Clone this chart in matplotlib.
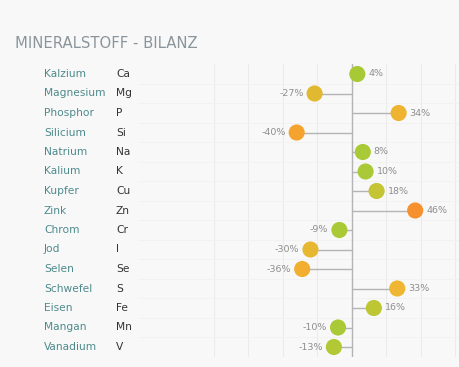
import matplotlib.pyplot as plt
import numpy as np
from matplotlib.colors import LinearSegmentedColormap, Normalize

# data
names = ['Kalzium', 'Magnesium', 'Phosphor', 'Silicium', 'Natrium', 'Kalium', 'Kupfer',
         'Zink', 'Chrom', 'Jod', 'Selen', 'Schwefel', 'Eisen', 'Mangan', 'Vanadium']
symbols = ['Ca', 'Mg', 'P', 'Si', 'Na', 'K', 'Cu', 'Zn', 'Cr', 'I', 'Se', 'S', 'Fe', 'Mn', 'V']
balance = [4, -27, 34, -40, 8, 10, 18, 46, -9, -30, -36, 33, 16, -10, -13]
grid_ticks = [-100, -75, -50, -25, 0, 25, 50, 75, 100]

W, H = 460, 367
bg = '#f8f8f8'

fig = plt.figure(figsize=(W / 100, H / 100), dpi=100, facecolor=bg)

# plot area in pixels (right side runs off the figure)
x0, x1 = 214, 489.6
row_top, row_step = 74, 19.5
n = len(names)
y_top = row_top - row_step / 2
y_bot = row_top + row_step * (n - 0.5)

ax = fig.add_axes([x0 / W, 1 - y_bot / H, (x1 - x0) / W, (y_bot - y_top) / H])
ax.set_facecolor('none')
ax.set_xlim(-100, 100)
ax.set_ylim(n - 0.5, -0.5)
for s in ax.spines.values():
    s.set_visible(False)
ax.set_xticks([])
ax.set_yticks([])

# faint grid
for g in grid_ticks:
    if g != 0:
        ax.axvline(g, color='#ebebeb', lw=0.8, zorder=0)
row_lines = np.arange(n + 1) - 0.5
for yl in row_lines[1:-1]:
    ax.plot([-155, 100], [yl, yl], color='#f2f2f2', lw=0.7, zorder=0, clip_on=False)

# zero axis
ax.axvline(0, color='#b4b4b4', lw=1.0, zorder=1)

# green -> yellow -> orange by size of deviation
cmap = LinearSegmentedColormap.from_list('bal', [
    (0.0, '#a5c936'), (0.24, '#abc936'), (0.38, '#c3c534'), (0.58, '#e0b930'),
    (0.72, '#eeb633'), (0.86, '#f5a52f'), (1.0, '#f7902f')])
norm = Normalize(0, 46)

ypos = np.arange(n)
vals = np.array(balance)
ax.hlines(ypos, 0, vals, color='#b4b4b4', lw=1.0, zorder=2)
ax.scatter(vals, ypos, s=135, c=cmap(norm(np.abs(vals))), edgecolors='none', zorder=3)

for y, v in zip(ypos, vals):
    off = 11 if v >= 0 else -11
    ax.annotate(f'{v}%', (v, y), xytext=(off * 0.72, 0), textcoords='offset points',
                ha='left' if v >= 0 else 'right', va='center',
                fontsize=6.8, color='#8e8e8e')

# left labels
for y, nm, sym in zip(ypos, names, symbols):
    yf = 1 - (row_top + row_step * y) / H
    fig.text(44 / W, yf, nm, fontsize=7.7, color='#4d8a8c', va='center', ha='left')
    fig.text(116 / W, yf, sym, fontsize=7.7, color='#333333', va='center', ha='left')

fig.text(15 / W, 1 - 43 / H, 'MINERALSTOFF - BILANZ', fontsize=10.7, color='#8a959b',
         va='center', ha='left')

fig.savefig('out.png', dpi=100, facecolor=bg)
